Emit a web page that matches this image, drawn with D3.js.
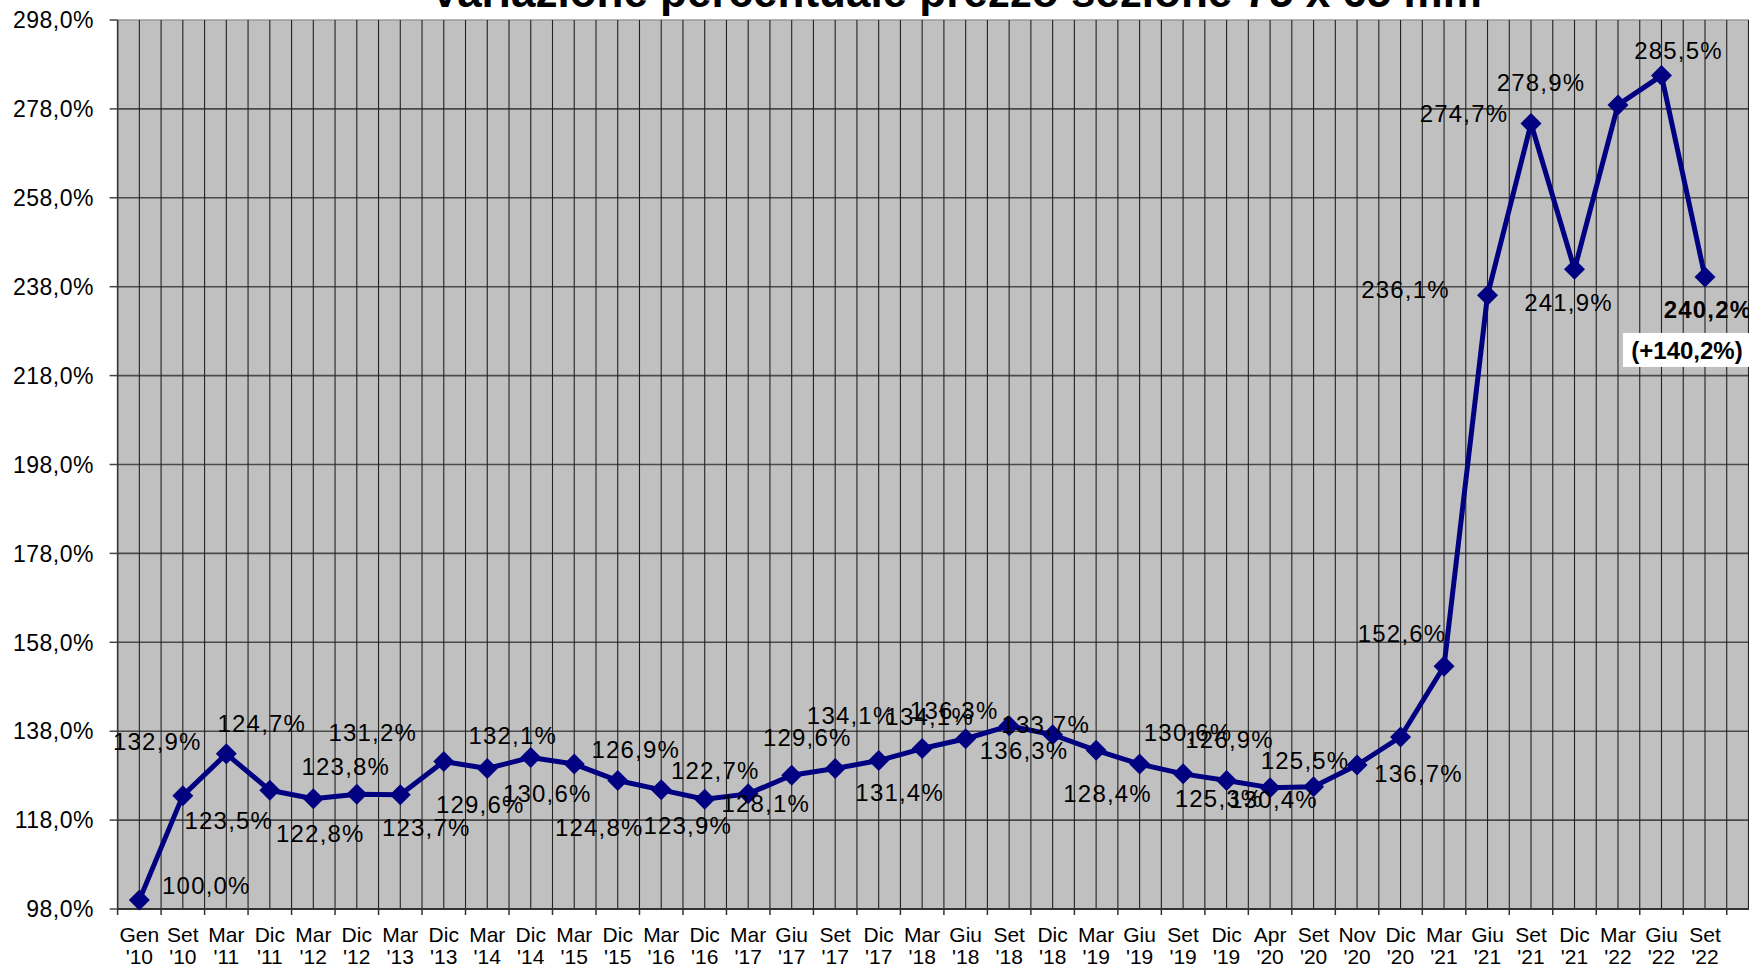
<!DOCTYPE html>
<html lang="it">
<head>
<meta charset="utf-8">
<title>Variazione percentuale prezzo</title>
<script src="https://cdn.jsdelivr.net/npm/d3@7"></script>
<style>
  body { margin: 0; background: #fff; }
  svg { display: block; font-family: "Liberation Sans", Arial, sans-serif; }
</style>
</head>
<body>
<script>
// categories (last slot is an empty, partly hidden period)
var categories = ["Gen '10","Set '10","Mar '11","Dic '11","Mar '12","Dic '12","Mar '13","Dic '13",
  "Mar '14","Dic '14","Mar '15","Dic '15","Mar '16","Dic '16","Mar '17","Giu '17","Set '17","Dic '17",
  "Mar '18","Giu '18","Set '18","Dic '18","Mar '19","Giu '19","Set '19","Dic '19","Apr '20","Set '20",
  "Nov '20","Dic '20","Mar '21","Giu '21","Set '21","Dic '21","Mar '22","Giu '22","Set '22",""];

var values = [100.0,123.5,132.9,124.7,122.8,123.8,123.7,131.2,129.6,132.1,130.6,126.9,124.8,122.7,
  123.9,128.1,129.6,131.4,134.1,136.3,139.2,137.2,133.7,130.6,128.4,126.9,125.3,125.5,130.4,136.7,
  152.6,236.1,274.7,241.9,278.9,285.5,240.2];

var labelTexts = ["100,0%","123,5%","132,9%","124,7%","122,8%","123,8%","123,7%","131,2%","129,6%",
  "132,1%","130,6%","126,9%","124,8%","123,9%","122,7%","128,1%","129,6%","131,4%","134,1%","134,1%",
  "136,3%","133,7%","136,3%","128,4%","130,6%","126,9%","125,3%","130,4%","125,5%","136,7%","152,6%",
  "236,1%","274,7%","241,9%","278,9%","285,5%","240,2%"];

var yTicks = [98,118,138,158,178,198,218,238,258,278,298];

var title = "Variazione percentuale prezzo sezione 75 x 65 mm";
var totalNote = "(+140,2%)";

// label placement, pixel offsets from each point (layout only)
var labelOffsets = [[67,-15],[46,25],[-69,-13],[-8,-67],[7,35],[-11,-28],[26,33],[-71,-29],[-7,36],
  [-18,-22],[-27,29],[18,-31],[-62,37],[-17,26],[-33,-24],[-26,28],[-28,-31],[21,32],[-71,-33],
  [-36,-22],[-55,-16],[-7,-10],[-72,0],[-32,29],[5,-42],[3,-41],[-51,11],[-40,13],[-52,-5],[18,36],
  [-42,-33],[-82,-6],[-67,-10],[-6,33],[-77,-23],[17,-25],[3,32]];

var W = 1749, H = 967;
var plotLeft = 117.6, plotTop = 20, plotBottom = 909, step = 43.49;

var svg = d3.select("body").append("svg")
  .attr("width", W).attr("height", H);

var x = d3.scaleBand()
  .domain(d3.range(categories.length))
  .range([plotLeft, plotLeft + categories.length * step]);

var y = d3.scaleLinear().domain([98, 298]).range([plotBottom, plotTop]);

var cx = function(i) { return x(i) + x.bandwidth() / 2; };

// plot area
svg.append("rect")
  .attr("x", plotLeft).attr("y", plotTop)
  .attr("width", x.range()[1] - plotLeft).attr("height", plotBottom - plotTop)
  .attr("fill", "#c0c0c0");

// horizontal grid
svg.selectAll(".hgrid").data(yTicks).enter().append("line")
  .attr("x1", plotLeft).attr("x2", x.range()[1])
  .attr("y1", function(d) { return y(d); }).attr("y2", function(d) { return y(d); })
  .attr("stroke", function(d) { return d === 298 ? "#9a9a9a" : "#4a4a4a"; })
  .attr("stroke-width", 1.6);

// vertical grid, every half period
var vlines = [];
categories.forEach(function(c, i) { vlines.push(x(i)); vlines.push(cx(i)); });
svg.selectAll(".vgrid").data(vlines).enter().append("line")
  .attr("x1", function(d) { return d; }).attr("x2", function(d) { return d; })
  .attr("y1", plotTop).attr("y2", plotBottom)
  .attr("stroke", "#222").attr("stroke-width", 1.1);

// axes
svg.append("line").attr("x1", plotLeft).attr("x2", plotLeft).attr("y1", plotTop).attr("y2", plotBottom)
  .attr("stroke", "#333").attr("stroke-width", 1.5);
svg.append("line").attr("x1", plotLeft).attr("x2", W).attr("y1", plotBottom).attr("y2", plotBottom)
  .attr("stroke", "#333").attr("stroke-width", 2);

svg.selectAll(".ytick").data(yTicks).enter().append("line")
  .attr("x1", plotLeft - 8).attr("x2", plotLeft)
  .attr("y1", function(d) { return y(d); }).attr("y2", function(d) { return y(d); })
  .attr("stroke", "#444").attr("stroke-width", 1.5);

svg.selectAll(".ylab").data(yTicks).enter().append("text")
  .attr("x", 94).attr("y", function(d) { return y(d); })
  .attr("dy", "0.36em")
  .attr("text-anchor", "end")
  .attr("font-size", 23).attr("letter-spacing", 0.5)
  .text(function(d) { return d3.format(".1f")(d).replace(".", ",") + "%"; });

svg.selectAll(".xtick").data(categories).enter().append("line")
  .attr("x1", function(d, i) { return x(i); }).attr("x2", function(d, i) { return x(i); })
  .attr("y1", plotBottom).attr("y2", plotBottom + 6)
  .attr("stroke", "#333").attr("stroke-width", 1.5);

var xl = svg.selectAll(".xlab").data(categories).enter().append("text")
  .attr("text-anchor", "middle")
  .attr("font-size", 21);
xl.append("tspan")
  .attr("x", function(d, i) { return cx(i); }).attr("y", 942)
  .text(function(d) { return d.split(" ")[0]; });
xl.append("tspan")
  .attr("x", function(d, i) { return cx(i); }).attr("y", 964)
  .text(function(d) { return d.split(" ")[1] || ""; });

// series line and markers
var line = d3.line()
  .x(function(d, i) { return cx(i); })
  .y(function(d) { return y(d); });

svg.append("path").datum(values)
  .attr("d", line)
  .attr("fill", "none").attr("stroke", "#000080")
  .attr("stroke-width", 5).attr("stroke-linejoin", "round");

svg.selectAll(".mark").data(values).enter().append("path")
  .attr("transform", function(d, i) { return "translate(" + cx(i) + "," + y(d) + ")"; })
  .attr("d", "M0,-10.5L10.5,0L0,10.5L-10.5,0Z")
  .attr("fill", "#000080");

// data labels
var last = values.length - 1;
svg.selectAll(".dlab").data(values).enter().append("text")
  .attr("x", function(d, i) { return cx(i) + labelOffsets[i][0]; })
  .attr("y", function(d, i) { return y(d) + labelOffsets[i][1]; })
  .attr("dy", "0.36em")
  .attr("text-anchor", "middle")
  .attr("font-size", 24).attr("letter-spacing", 1.2)
  .attr("font-weight", function(d, i) { return i === last ? "bold" : "normal"; })
  .text(function(d, i) { return labelTexts[i]; });

// total change note on the last point
var lx = cx(last), ly = y(values[last]);
svg.append("rect")
  .attr("x", lx - 82).attr("y", ly + 56)
  .attr("width", 160).attr("height", 34)
  .attr("fill", "#fff");
svg.append("text")
  .attr("x", lx - 18).attr("y", ly + 73)
  .attr("dy", "0.36em")
  .attr("text-anchor", "middle")
  .attr("font-size", 24).attr("font-weight", "bold")
  .text(totalNote);

// title (partly above the frame)
svg.append("text")
  .attr("x", 956).attr("y", 7)
  .attr("text-anchor", "middle")
  .attr("font-size", 44).attr("font-weight", "bold")
  .text(title);
</script>
</body>
</html>
